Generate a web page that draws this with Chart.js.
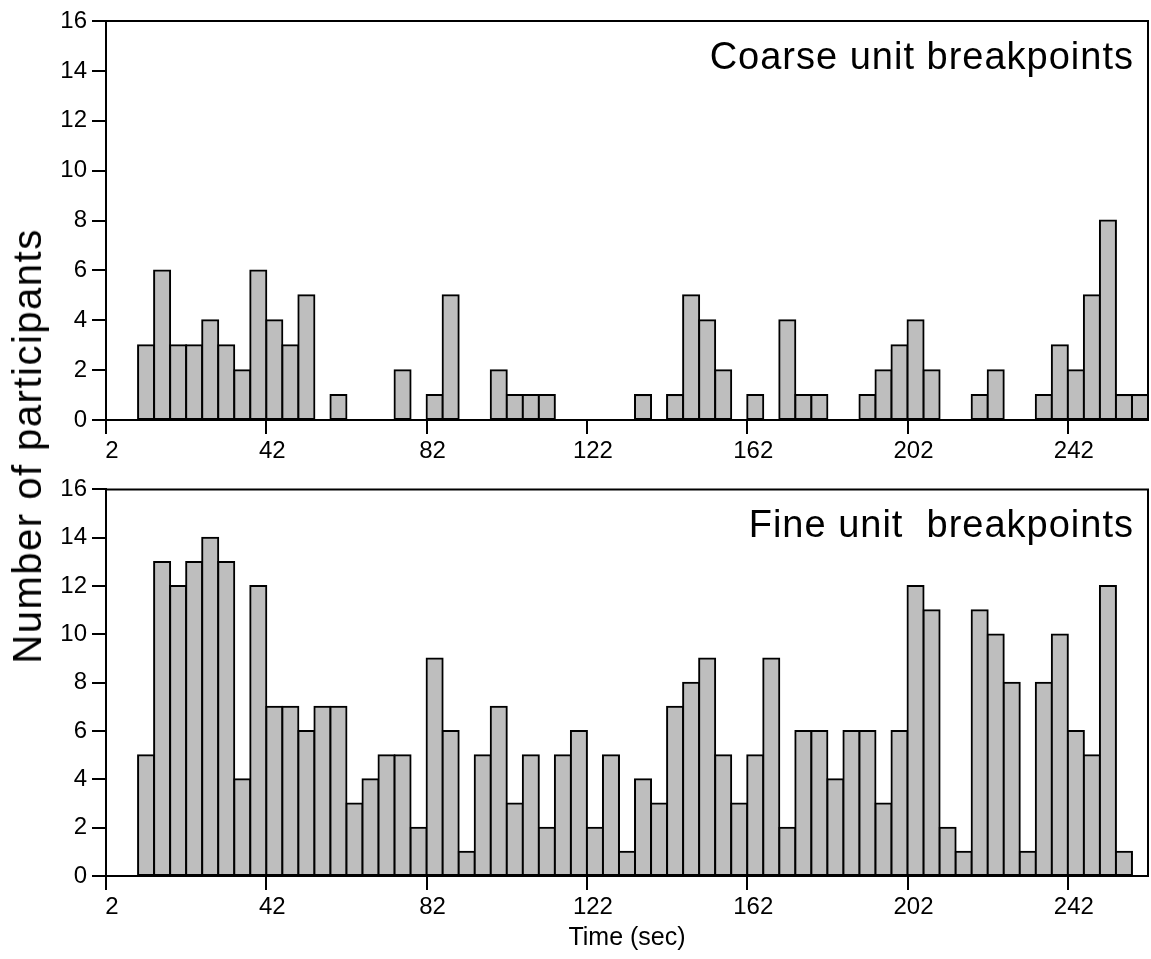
<!DOCTYPE html>
<html>
<head>
<meta charset="utf-8">
<title>Unit breakpoints</title>
<script src="https://cdn.jsdelivr.net/npm/chart.js@4.4.1/dist/chart.umd.min.js"></script>
<style>
  html, body { margin: 0; padding: 0; background: #fff; }
  #wrap { position: relative; width: 1151px; height: 959px; }
  .panel { position: absolute; left: 0; width: 1151px; }
  #coarseBox { top: 0; height: 470px; }
  #fineBox { top: 470px; height: 489px; }
  #ytitle {
    position: absolute; left: 27px; top: 446px;
    transform: translate(-50%, -50%) rotate(-90deg);
    font: 40px "Liberation Sans", Arial, sans-serif;
    letter-spacing: 1.5px; line-height: 1;
    white-space: nowrap; color: #000;
  }
</style>
</head>
<body>
<div id="wrap">
  <div class="panel" id="coarseBox"><canvas id="coarseChart"></canvas></div>
  <div class="panel" id="fineBox"><canvas id="fineChart"></canvas></div>
  <div id="ytitle">Number of participants</div>
</div>
<script>
// 4-second bins, centres in seconds
const binCenters = [12, 16, 20, 24, 28, 32, 36, 40, 44, 48, 52, 56, 60, 64, 68, 72,
  76, 80, 84, 88, 92, 96, 100, 104, 108, 112, 116, 120, 124, 128, 132, 136,
  140, 144, 148, 152, 156, 160, 164, 168, 172, 176, 180, 184, 188, 192, 196, 200,
  204, 208, 212, 216, 220, 224, 228, 232, 236, 240, 244, 248, 252, 256, 260];

const coarseCounts = [3, 6, 3, 3, 4, 3, 2, 6, 4, 3, 5, 0, 1, 0, 0, 0,
  2, 0, 1, 5, 0, 0, 2, 1, 1, 1, 0, 0, 0, 0, 0, 1,
  0, 1, 5, 4, 2, 0, 1, 0, 4, 1, 1, 0, 0, 1, 2, 3,
  4, 2, 0, 0, 1, 2, 0, 0, 1, 3, 2, 5, 8, 1, 1];

const fineCounts = [5, 13, 12, 13, 14, 13, 4, 12, 7, 7, 6, 7, 7, 3, 4, 5,
  5, 2, 9, 6, 1, 5, 7, 3, 5, 2, 5, 6, 2, 5, 1, 4,
  3, 7, 8, 9, 5, 3, 5, 9, 2, 6, 6, 4, 6, 6, 3, 6,
  12, 11, 2, 1, 11, 10, 8, 1, 8, 10, 6, 5, 12, 1, 0];

const timeTicks = [2, 42, 82, 122, 162, 202, 242];
const timeMin = 2, timeMax = 262;
const countMax = 16, countStep = 2;

Chart.defaults.font.family = '"Liberation Sans", Arial, Helvetica, sans-serif';
Chart.defaults.color = '#000';

// label in the upper right corner of the plot area
const panelLabel = {
  id: 'panelLabel',
  afterDraw(chart, args, opts) {
    const { ctx, chartArea } = chart;
    ctx.save();
    ctx.font = '38px "Liberation Sans", Arial, sans-serif';
    if ('letterSpacing' in ctx) ctx.letterSpacing = '1px';
    ctx.fillStyle = '#000';
    ctx.textAlign = 'right';
    ctx.textBaseline = 'alphabetic';
    ctx.fillText(opts.text, chartArea.right - 14, chartArea.top + 48);
    ctx.restore();
  }
};

// top and right edges of the box
const frame = {
  id: 'frame',
  afterDraw(chart) {
    const { ctx, chartArea: a } = chart;
    ctx.save();
    ctx.strokeStyle = '#000';
    ctx.lineWidth = 2;
    ctx.beginPath();
    ctx.moveTo(a.left, a.top);
    ctx.lineTo(a.right, a.top);
    ctx.lineTo(a.right, a.bottom);
    ctx.stroke();
    ctx.restore();
  }
};

function histogram(canvasId, counts, label, topPad, xHeight, showTitle) {
  return new Chart(document.getElementById(canvasId), {
    type: 'bar',
    data: {
      datasets: [{
        data: binCenters.map((x, i) => ({ x: x, y: counts[i] })),
        backgroundColor: '#bebebe',
        borderColor: '#000',
        borderWidth: 2,
        borderSkipped: false,
        inflateAmount: 1,
        barPercentage: 1,
        categoryPercentage: 1
      }]
    },
    options: {
      responsive: true,
      maintainAspectRatio: false,
      animation: false,
      layout: { padding: { top: topPad, right: 3, bottom: 0, left: 0 } },
      plugins: {
        legend: { display: false },
        tooltip: { enabled: false },
        panelLabel: { text: label }
      },
      scales: {
        x: {
          type: 'linear',
          min: timeMin,
          max: timeMax,
          offset: false,
          afterBuildTicks: (scale) => { scale.ticks = timeTicks.map(v => ({ value: v })); },
          afterFit: (scale) => { scale.height = xHeight; },
          grid: { offset: false, drawOnChartArea: false, tickLength: 14, color: '#000', lineWidth: 2 },
          border: { display: true, color: '#000', width: 2 },
          ticks: { font: { size: 24 }, padding: 3, labelOffset: 6, maxRotation: 0, autoSkip: false },
          title: {
            display: showTitle,
            text: 'Time (sec)',
            font: { size: 25 },
            padding: { top: 0, bottom: 6 }
          }
        },
        y: {
          min: 0,
          max: countMax,
          afterFit: (scale) => { scale.width = 106; },
          grid: { drawOnChartArea: false, tickLength: 14, color: '#000', lineWidth: 2 },
          border: { display: true, color: '#000', width: 2 },
          ticks: { stepSize: countStep, font: { size: 24 }, padding: 5 }
        }
      }
    },
    plugins: [panelLabel, frame]
  });
}

histogram('coarseChart', coarseCounts, 'Coarse unit breakpoints', 21, 50, false);
histogram('fineChart', fineCounts, 'Fine unit  breakpoints', 10, 83, true);
</script>
</body>
</html>
